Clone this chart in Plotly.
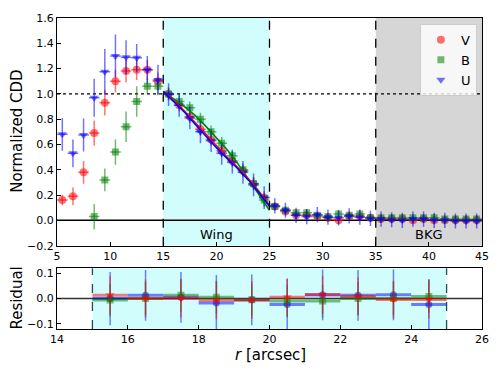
import plotly.graph_objects as go

# radial bins (bin centres, arcsec)
r_top = [5.5, 6.5, 7.5, 8.5, 9.5, 10.5, 11.5, 12.5, 13.5, 14.5,
         15.5, 16.5, 17.5, 18.5, 19.5, 20.5, 21.5, 22.5, 23.5, 24.5,
         25.5, 26.5, 27.5, 28.5, 29.5, 30.5, 31.5, 32.5, 33.5, 34.5,
         35.5, 36.5, 37.5, 38.5, 39.5, 40.5, 41.5, 42.5, 43.5, 44.5]

cdd_v = [0.16, 0.19, 0.38, 0.69, 0.93, 1.10, 1.18, 1.19, 1.19, 1.10,
         1.00, 0.91, 0.82, 0.72, 0.64, 0.55, 0.47, 0.39, 0.29, 0.18,
         0.11, 0.07, 0.04, 0.04, 0.03, 0.02, 0.00, 0.03, 0.03, 0.02,
         0.01, 0.01, 0.01, 0.00, 0.01, 0.00, 0.00, 0.00, 0.00, 0.00]
err_v = [0.04, 0.07, 0.09, 0.10, 0.10, 0.09, 0.09, 0.08, 0.08, 0.07,
         0.05, 0.05, 0.05, 0.05, 0.05, 0.05, 0.05, 0.05, 0.05, 0.05,
         0.03, 0.03, 0.03, 0.03, 0.03, 0.03, 0.03, 0.03, 0.03, 0.03,
         0.03, 0.03, 0.03, 0.03, 0.03, 0.03, 0.03, 0.03, 0.03, 0.03]

cdd_b = [None, None, None, 0.03, 0.32, 0.54, 0.74, 0.94, 1.06, 1.06,
         1.00, 0.94, 0.89, 0.80, 0.70, 0.61, 0.51, 0.40, 0.29, 0.16,
         0.11, 0.08, 0.06, 0.06, 0.04, 0.03, 0.05, 0.04, 0.05, 0.02,
         0.02, 0.02, 0.02, 0.02, 0.02, 0.02, 0.01, 0.01, 0.01, 0.01]
err_b = [0.0, 0.0, 0.0, 0.10, 0.09, 0.10, 0.12, 0.12, 0.06, 0.06,
         0.05, 0.05, 0.05, 0.05, 0.05, 0.05, 0.05, 0.05, 0.05, 0.05,
         0.03, 0.03, 0.03, 0.03, 0.03, 0.03, 0.03, 0.03, 0.03, 0.03,
         0.03, 0.03, 0.03, 0.03, 0.03, 0.03, 0.03, 0.03, 0.03, 0.03]

cdd_u = [0.68, 0.53, 0.675, 0.97, 1.175, 1.30, 1.29, 1.285, 1.19, 1.11,
         0.995, 0.91, 0.81, 0.70, 0.63, 0.53, 0.46, 0.38, 0.28, 0.18,
         0.115, 0.08, 0.04, 0.03, 0.045, 0.025, 0.02, 0.035, 0.025, 0.015,
         0.01, 0.005, 0.0, 0.01, 0.01, 0.0, 0.0, -0.005, -0.005, -0.005]
err_u = [0.13, 0.11, 0.13, 0.15, 0.18, 0.17, 0.135, 0.11, 0.11, 0.12,
         0.09, 0.09, 0.09, 0.09, 0.09, 0.09, 0.09, 0.09, 0.09, 0.09,
         0.06, 0.06, 0.06, 0.06, 0.06, 0.06, 0.06, 0.06, 0.06, 0.06,
         0.06, 0.06, 0.06, 0.06, 0.06, 0.06, 0.06, 0.06, 0.06, 0.06]

# model fits across the wing
r_model = [15, 16, 17, 18, 19, 20, 21, 22, 23, 24, 25]
model_v = [1.02, 0.95, 0.865, 0.775, 0.68, 0.59, 0.50, 0.42, 0.33, 0.23, 0.12]
model_b = [1.01, 0.96, 0.90, 0.83, 0.745, 0.655, 0.56, 0.45, 0.33, 0.20, 0.08]
model_u = [1.02, 0.94, 0.855, 0.76, 0.665, 0.575, 0.49, 0.41, 0.32, 0.22, 0.11]

# residuals
r_res = [15.5, 16.5, 17.5, 18.5, 19.5, 20.5, 21.5, 22.5, 23.5, 24.5]
res_v = [0.013, 0.0, 0.0, -0.007, -0.006, 0.005, 0.015, 0.008, -0.004, -0.004]
res_b = [-0.006, 0.0, 0.013, 0.005, -0.005, -0.01, -0.01, 0.0, 0.0, 0.008]
res_u = [0.0, 0.013, 0.005, -0.017, -0.005, -0.023, 0.015, 0.013, 0.015, -0.023]
res_err_v = [0.075, 0.075, 0.075, 0.075, 0.075, 0.075, 0.075, 0.075, 0.075, 0.075]
res_err_b = [0.065, 0.065, 0.065, 0.065, 0.065, 0.065, 0.065, 0.065, 0.065, 0.065]
res_err_u = [0.105, 0.10, 0.10, 0.11, 0.10, 0.10, 0.10, 0.10, 0.10, 0.10]

top_yticks = [-0.2, 0.0, 0.2, 0.4, 0.6, 0.8, 1.0, 1.2, 1.4, 1.6]
top_xticks = [5, 10, 15, 20, 25, 30, 35, 40, 45]
res_xticks = [14, 16, 18, 20, 22, 24, 26]
res_yticks = [-0.1, 0.0, 0.1]

RED, GREEN, BLUE = "#ff0000", "#008000", "#0000ff"
RED_A, GREEN_A, BLUE_A = "rgba(255,0,0,0.5)", "rgba(0,128,0,0.5)", "rgba(0,0,255,0.5)"
FONT = "DejaVu Sans"

fig = go.Figure()


def points(x, y, err, name, symbol, fill, size, xa, ya, legend, xbar_w=1.5):
    fig.add_trace(go.Scatter(
        x=x, y=y, mode="markers", name=name, showlegend=legend,
        xaxis=xa, yaxis=ya,
        marker=dict(symbol=symbol, size=size, color=fill, line=dict(width=0)),
        error_y=dict(type="data", array=err, color=fill, thickness=1.5, width=0),
        error_x=dict(type="constant", value=0.5, color=fill, thickness=xbar_w, width=0),
    ))


# top panel
points(r_top, cdd_v, err_v, "V", "circle", "rgba(255,0,0,0.55)", 8, "x", "y", True)
points(r_top, cdd_b, err_b, "B", "square", "rgba(0,128,0,0.55)", 7, "x", "y", True)
points(r_top, cdd_u, err_u, "U", "triangle-down", "rgba(0,0,255,0.55)", 8, "x", "y", True)

for ym, col in [(model_b, GREEN), (model_v, RED), (model_u, BLUE)]:
    fig.add_trace(go.Scatter(x=r_model, y=ym, mode="lines", showlegend=False,
                             line=dict(color=col, width=1.5), xaxis="x", yaxis="y"))

# bottom panel
points(r_res, res_u, res_err_u, "U", "circle", BLUE_A, 7, "x2", "y2", False, 3)
points(r_res, res_b, res_err_b, "B", "square", GREEN_A, 7, "x2", "y2", False, 3)
points(r_res, res_v, res_err_v, "V", "triangle-down", RED_A, 8, "x2", "y2", False, 3)

shapes = [
    dict(type="rect", xref="x", yref="y domain", x0=15, x1=25, y0=0, y1=1,
         fillcolor="#d2fdfd", line_width=0, layer="below"),
    dict(type="rect", xref="x", yref="y domain", x0=35, x1=45, y0=0, y1=1,
         fillcolor="#d6d6d6", line_width=0, layer="below"),
    dict(type="line", xref="x domain", yref="y", x0=0, x1=1, y0=1, y1=1,
         line=dict(color="black", width=1.3, dash="dot"), layer="below"),
    dict(type="line", xref="x domain", yref="y", x0=0, x1=1, y0=0, y1=0,
         line=dict(color="black", width=1.5), layer="below"),
    dict(type="rect", xref="x2", yref="y2 domain", x0=15, x1=25, y0=0, y1=1,
         fillcolor="#d2fdfd", line_width=0, layer="below"),
    dict(type="line", xref="x2 domain", yref="y2", x0=0, x1=1, y0=0, y1=0,
         line=dict(color="#333333", width=1.5), layer="below"),
]
for xv in [15, 25, 35]:
    shapes.append(dict(type="line", xref="x", yref="y domain", x0=xv, x1=xv, y0=0, y1=1,
                       line=dict(color="black", width=1.3, dash="dash")))
for xv in [15, 25]:
    shapes.append(dict(type="line", xref="x2", yref="y2 domain", x0=xv, x1=xv, y0=0, y1=1,
                       line=dict(color="#1d5050", width=1.3, dash="dash")))

axis_style = dict(showline=True, linecolor="black", linewidth=1, mirror=True,
                  ticks="inside", ticklen=4, tickwidth=1, tickcolor="black",
                  showgrid=False, zeroline=False, ticklabeloverflow="allow",
                  tickfont=dict(family=FONT, size=11, color="black"))


def label(text, px, py, angle=0):
    # px, py are page pixels; convert to paper fractions of the plot area
    return dict(text=text, x=(px - 57) / 425, y=(329 - py) / 317,
                xref="paper", yref="paper", xanchor="center", yanchor="middle",
                textangle=angle, showarrow=False, font=dict(family=FONT, size=15))


# page body has an 8px margin, so the figure is shrunk by 8px and margins shifted
fig.update_layout(
    width=490, height=362,
    margin=dict(l=49, r=16, t=4, b=41),
    paper_bgcolor="white", plot_bgcolor="white",
    font=dict(family=FONT, color="black"),
    shapes=shapes,
    xaxis=dict(domain=[0, 1], range=[5, 45], tickvals=top_xticks, anchor="y", **axis_style),
    yaxis=dict(domain=[0.268, 1], range=[-0.2, 1.6], tickvals=top_yticks, tickformat=".1f",
               anchor="x", **axis_style),
    xaxis2=dict(domain=[0, 1], range=[14, 26], tickvals=res_xticks, anchor="y2", **axis_style),
    yaxis2=dict(domain=[0, 0.1956], range=[-0.12, 0.12], tickvals=res_yticks,
                tickformat=".1f", anchor="x2", **axis_style),
    legend=dict(x=0.988, y=0.981, xanchor="right", yanchor="top",
                bgcolor="rgba(255,255,255,0.8)", bordercolor="#cccccc", borderwidth=1,
                font=dict(family=FONT, size=13), itemwidth=30),
    annotations=[
        dict(text="Wing", x=20, y=-0.115, xref="x", yref="y", showarrow=False,
             font=dict(family=FONT, size=13)),
        dict(text="BKG", x=40, y=-0.115, xref="x", yref="y", showarrow=False,
             font=dict(family=FONT, size=13)),
        label("Normalized CDD", 17, 128, -90),
        label("Residual", 17, 298, -90),
        label("<i>r</i> [arcsec]", 270, 355),
    ],
)

fig.write_html("out.html")
